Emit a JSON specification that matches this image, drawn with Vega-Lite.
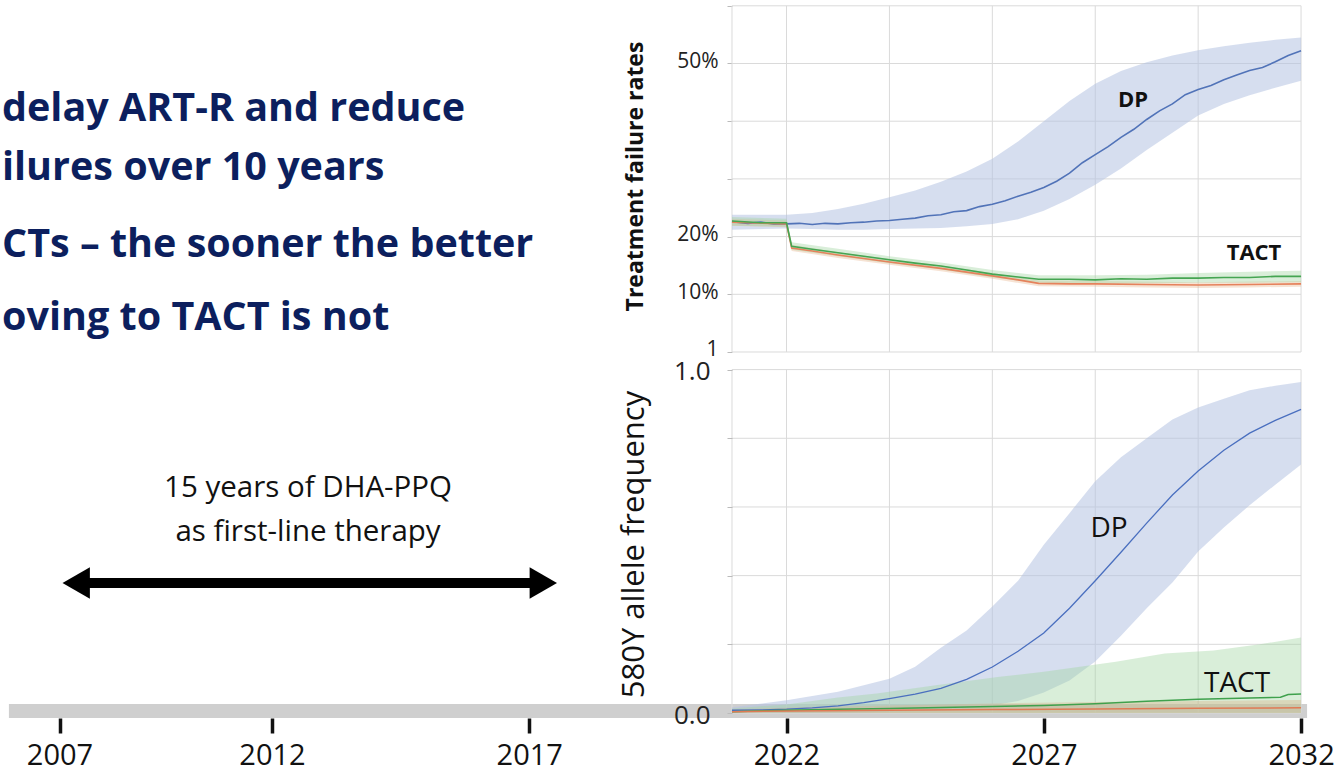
{
  "$schema": "https://vega.github.io/schema/vega-lite/v6.json",
  "width": 1338,
  "height": 713,
  "padding": {"left": 0, "top": 0, "right": 0, "bottom": 59},
  "autosize": {"type": "none"},
  "background": "white",
  "config": {"view": {"stroke": null}, "font": "Open Sans", "text": {"font": "Open Sans"}},
  "datasets": {
    "t_hgrid": [
      {"year": 2020.94, "year2": 2032, "y": 0}, {"year": 2020.94, "year2": 2032, "y": 0.1}, {"year": 2020.94, "year2": 2032, "y": 0.2},
      {"year": 2020.94, "year2": 2032, "y": 0.3}, {"year": 2020.94, "year2": 2032, "y": 0.4}, {"year": 2020.94, "year2": 2032, "y": 0.5},
      {"year": 2020.94, "year2": 2032, "y": 0.6}
    ],
    "t_vgrid": [
      {"year": 2020.94, "y": 0, "y2": 0.6}, {"year": 2022, "y": 0, "y2": 0.6}, {"year": 2024, "y": 0, "y2": 0.6},
      {"year": 2026, "y": 0, "y2": 0.6}, {"year": 2028, "y": 0, "y2": 0.6}, {"year": 2030, "y": 0, "y2": 0.6}, {"year": 2032, "y": 0, "y2": 0.6}
    ],
    "t_band": [
      {"s": "DP", "year": 2020.94, "y": 0.212, "y2": 0.238}, {"s": "DP", "year": 2022, "y": 0.214, "y2": 0.238},
      {"s": "DP", "year": 2022.5, "y": 0.213, "y2": 0.241}, {"s": "DP", "year": 2023, "y": 0.212, "y2": 0.248},
      {"s": "DP", "year": 2023.5, "y": 0.212, "y2": 0.257}, {"s": "DP", "year": 2024, "y": 0.213, "y2": 0.268},
      {"s": "DP", "year": 2024.5, "y": 0.214, "y2": 0.28}, {"s": "DP", "year": 2025, "y": 0.215, "y2": 0.295},
      {"s": "DP", "year": 2025.5, "y": 0.218, "y2": 0.313}, {"s": "DP", "year": 2026, "y": 0.222, "y2": 0.335},
      {"s": "DP", "year": 2026.5, "y": 0.23, "y2": 0.365}, {"s": "DP", "year": 2027, "y": 0.245, "y2": 0.4},
      {"s": "DP", "year": 2027.5, "y": 0.265, "y2": 0.435}, {"s": "DP", "year": 2028, "y": 0.29, "y2": 0.465},
      {"s": "DP", "year": 2028.5, "y": 0.318, "y2": 0.487}, {"s": "DP", "year": 2029, "y": 0.35, "y2": 0.502},
      {"s": "DP", "year": 2029.5, "y": 0.38, "y2": 0.514}, {"s": "DP", "year": 2030, "y": 0.41, "y2": 0.523},
      {"s": "DP", "year": 2030.5, "y": 0.43, "y2": 0.53}, {"s": "DP", "year": 2031, "y": 0.445, "y2": 0.536},
      {"s": "DP", "year": 2031.5, "y": 0.458, "y2": 0.541}, {"s": "DP", "year": 2032, "y": 0.47, "y2": 0.545},
      {"s": "G", "year": 2020.94, "y": 0.219, "y2": 0.234}, {"s": "G", "year": 2022.0, "y": 0.217, "y2": 0.231},
      {"s": "G", "year": 2022.1, "y": 0.177, "y2": 0.19}, {"s": "G", "year": 2023, "y": 0.166, "y2": 0.179},
      {"s": "G", "year": 2024, "y": 0.154, "y2": 0.166}, {"s": "G", "year": 2025, "y": 0.143, "y2": 0.155},
      {"s": "G", "year": 2026, "y": 0.129, "y2": 0.142}, {"s": "G", "year": 2026.9, "y": 0.12, "y2": 0.133},
      {"s": "G", "year": 2028, "y": 0.118, "y2": 0.133}, {"s": "G", "year": 2029, "y": 0.119, "y2": 0.134},
      {"s": "G", "year": 2030, "y": 0.12, "y2": 0.137}, {"s": "G", "year": 2031, "y": 0.12, "y2": 0.139},
      {"s": "G", "year": 2032, "y": 0.121, "y2": 0.141},
      {"s": "O", "year": 2020.94, "y": 0.219, "y2": 0.231}, {"s": "O", "year": 2022.0, "y": 0.216, "y2": 0.228},
      {"s": "O", "year": 2022.1, "y": 0.175, "y2": 0.186}, {"s": "O", "year": 2023, "y": 0.163, "y2": 0.173},
      {"s": "O", "year": 2024, "y": 0.151, "y2": 0.161}, {"s": "O", "year": 2025, "y": 0.14, "y2": 0.15},
      {"s": "O", "year": 2026, "y": 0.127, "y2": 0.137}, {"s": "O", "year": 2026.9, "y": 0.114, "y2": 0.124},
      {"s": "O", "year": 2028, "y": 0.113, "y2": 0.123}, {"s": "O", "year": 2029, "y": 0.112, "y2": 0.122},
      {"s": "O", "year": 2030, "y": 0.111, "y2": 0.121}, {"s": "O", "year": 2031, "y": 0.112, "y2": 0.122},
      {"s": "O", "year": 2032, "y": 0.113, "y2": 0.123}
    ],
    "t_line": [
      {"s": "DP", "year": 2020.94, "y": 0.226}, {"s": "DP", "year": 2021.25, "y": 0.223}, {"s": "DP", "year": 2021.5, "y": 0.225},
      {"s": "DP", "year": 2021.75, "y": 0.222}, {"s": "DP", "year": 2022.0, "y": 0.222}, {"s": "DP", "year": 2022.25, "y": 0.223},
      {"s": "DP", "year": 2022.5, "y": 0.221}, {"s": "DP", "year": 2022.75, "y": 0.223}, {"s": "DP", "year": 2023.0, "y": 0.222},
      {"s": "DP", "year": 2023.25, "y": 0.224}, {"s": "DP", "year": 2023.5, "y": 0.225}, {"s": "DP", "year": 2023.75, "y": 0.227},
      {"s": "DP", "year": 2024.0, "y": 0.228}, {"s": "DP", "year": 2024.25, "y": 0.23}, {"s": "DP", "year": 2024.5, "y": 0.232},
      {"s": "DP", "year": 2024.75, "y": 0.236}, {"s": "DP", "year": 2025.0, "y": 0.238}, {"s": "DP", "year": 2025.25, "y": 0.243},
      {"s": "DP", "year": 2025.5, "y": 0.245}, {"s": "DP", "year": 2025.75, "y": 0.252}, {"s": "DP", "year": 2026.0, "y": 0.256},
      {"s": "DP", "year": 2026.25, "y": 0.262}, {"s": "DP", "year": 2026.5, "y": 0.27}, {"s": "DP", "year": 2026.75, "y": 0.277},
      {"s": "DP", "year": 2027.0, "y": 0.285}, {"s": "DP", "year": 2027.25, "y": 0.296}, {"s": "DP", "year": 2027.5, "y": 0.31},
      {"s": "DP", "year": 2027.75, "y": 0.328}, {"s": "DP", "year": 2028.0, "y": 0.342}, {"s": "DP", "year": 2028.25, "y": 0.356},
      {"s": "DP", "year": 2028.5, "y": 0.372}, {"s": "DP", "year": 2028.75, "y": 0.386}, {"s": "DP", "year": 2029.0, "y": 0.403},
      {"s": "DP", "year": 2029.25, "y": 0.418}, {"s": "DP", "year": 2029.5, "y": 0.43}, {"s": "DP", "year": 2029.75, "y": 0.446},
      {"s": "DP", "year": 2030.0, "y": 0.455}, {"s": "DP", "year": 2030.25, "y": 0.462}, {"s": "DP", "year": 2030.5, "y": 0.472},
      {"s": "DP", "year": 2030.75, "y": 0.48}, {"s": "DP", "year": 2031.0, "y": 0.488}, {"s": "DP", "year": 2031.25, "y": 0.493},
      {"s": "DP", "year": 2031.5, "y": 0.503}, {"s": "DP", "year": 2031.75, "y": 0.514}, {"s": "DP", "year": 2032.0, "y": 0.522},
      {"s": "G", "year": 2020.94, "y": 0.227}, {"s": "G", "year": 2021.5, "y": 0.224}, {"s": "G", "year": 2022.0, "y": 0.224},
      {"s": "G", "year": 2022.1, "y": 0.183}, {"s": "G", "year": 2022.5, "y": 0.178}, {"s": "G", "year": 2023.0, "y": 0.172},
      {"s": "G", "year": 2023.5, "y": 0.166}, {"s": "G", "year": 2024.0, "y": 0.16}, {"s": "G", "year": 2024.5, "y": 0.154},
      {"s": "G", "year": 2025.0, "y": 0.149}, {"s": "G", "year": 2025.5, "y": 0.142}, {"s": "G", "year": 2026.0, "y": 0.135},
      {"s": "G", "year": 2026.5, "y": 0.13}, {"s": "G", "year": 2026.9, "y": 0.126}, {"s": "G", "year": 2027.5, "y": 0.126},
      {"s": "G", "year": 2028.0, "y": 0.125}, {"s": "G", "year": 2028.5, "y": 0.127}, {"s": "G", "year": 2029.0, "y": 0.126},
      {"s": "G", "year": 2029.5, "y": 0.128}, {"s": "G", "year": 2030.0, "y": 0.128}, {"s": "G", "year": 2030.5, "y": 0.129},
      {"s": "G", "year": 2031.0, "y": 0.129}, {"s": "G", "year": 2031.5, "y": 0.131}, {"s": "G", "year": 2032.0, "y": 0.131},
      {"s": "O", "year": 2020.94, "y": 0.225}, {"s": "O", "year": 2022.0, "y": 0.222}, {"s": "O", "year": 2022.1, "y": 0.18},
      {"s": "O", "year": 2022.5, "y": 0.175}, {"s": "O", "year": 2023.0, "y": 0.168}, {"s": "O", "year": 2024.0, "y": 0.156},
      {"s": "O", "year": 2025.0, "y": 0.145}, {"s": "O", "year": 2026.0, "y": 0.132}, {"s": "O", "year": 2026.5, "y": 0.125},
      {"s": "O", "year": 2026.9, "y": 0.119}, {"s": "O", "year": 2027.5, "y": 0.118}, {"s": "O", "year": 2028.0, "y": 0.118},
      {"s": "O", "year": 2029.0, "y": 0.117}, {"s": "O", "year": 2030.0, "y": 0.116}, {"s": "O", "year": 2031.0, "y": 0.117},
      {"s": "O", "year": 2032.0, "y": 0.118}
    ],
    "t_labels": [
      {"year": 2028.735, "y": 0.4246, "text": "DP"},
      {"year": 2031.086, "y": 0.1594, "text": "TACT"}
    ],
    "b_bar": [{"year": 2005.81, "year2": 2032.117, "y": 0.006}],
    "b_hgrid": [
      {"year": 2020.94, "year2": 2032, "y": 0}, {"year": 2020.94, "year2": 2032, "y": 0.2}, {"year": 2020.94, "year2": 2032, "y": 0.4},
      {"year": 2020.94, "year2": 2032, "y": 0.6}, {"year": 2020.94, "year2": 2032, "y": 0.8}, {"year": 2020.94, "year2": 2032, "y": 1.0}
    ],
    "b_vgrid": [
      {"year": 2020.94, "y": 0, "y2": 1}, {"year": 2022, "y": 0, "y2": 1}, {"year": 2024, "y": 0, "y2": 1},
      {"year": 2026, "y": 0, "y2": 1}, {"year": 2028, "y": 0, "y2": 1}, {"year": 2030, "y": 0, "y2": 1}, {"year": 2032, "y": 0, "y2": 1}
    ],
    "b_band": [
      {"s": "DP", "year": 2020.94, "y": 0, "y2": 0.017}, {"s": "DP", "year": 2022, "y": 0, "y2": 0.037},
      {"s": "DP", "year": 2023, "y": 0.001, "y2": 0.062}, {"s": "DP", "year": 2024, "y": 0.004, "y2": 0.1},
      {"s": "DP", "year": 2024.5, "y": 0.006, "y2": 0.135}, {"s": "DP", "year": 2025, "y": 0.008, "y2": 0.19},
      {"s": "DP", "year": 2025.5, "y": 0.012, "y2": 0.24}, {"s": "DP", "year": 2026, "y": 0.022, "y2": 0.31},
      {"s": "DP", "year": 2026.5, "y": 0.035, "y2": 0.385}, {"s": "DP", "year": 2027, "y": 0.06, "y2": 0.49},
      {"s": "DP", "year": 2027.5, "y": 0.095, "y2": 0.582}, {"s": "DP", "year": 2028, "y": 0.15, "y2": 0.675},
      {"s": "DP", "year": 2028.5, "y": 0.225, "y2": 0.745}, {"s": "DP", "year": 2029, "y": 0.305, "y2": 0.8},
      {"s": "DP", "year": 2029.5, "y": 0.38, "y2": 0.855}, {"s": "DP", "year": 2030, "y": 0.47, "y2": 0.89},
      {"s": "DP", "year": 2030.5, "y": 0.54, "y2": 0.915}, {"s": "DP", "year": 2031, "y": 0.605, "y2": 0.94},
      {"s": "DP", "year": 2031.5, "y": 0.665, "y2": 0.953}, {"s": "DP", "year": 2032, "y": 0.724, "y2": 0.964},
      {"s": "G", "year": 2020.94, "y": 0, "y2": 0.013}, {"s": "G", "year": 2022, "y": 0, "y2": 0.025},
      {"s": "G", "year": 2023, "y": 0, "y2": 0.045}, {"s": "G", "year": 2023.75, "y": 0, "y2": 0.057},
      {"s": "G", "year": 2024.9, "y": 0, "y2": 0.081}, {"s": "G", "year": 2026.1, "y": 0, "y2": 0.105},
      {"s": "G", "year": 2027, "y": 0, "y2": 0.12}, {"s": "G", "year": 2028.4, "y": 0, "y2": 0.149},
      {"s": "G", "year": 2029.35, "y": 0, "y2": 0.173}, {"s": "G", "year": 2030.3, "y": 0, "y2": 0.182},
      {"s": "G", "year": 2031.2, "y": 0, "y2": 0.2}, {"s": "G", "year": 2032, "y": 0, "y2": 0.22},
      {"s": "O", "year": 2020.94, "y": 0, "y2": 0.01}, {"s": "O", "year": 2022, "y": 0, "y2": 0.015},
      {"s": "O", "year": 2024, "y": 0, "y2": 0.022}, {"s": "O", "year": 2026, "y": 0, "y2": 0.028},
      {"s": "O", "year": 2028, "y": 0, "y2": 0.032}, {"s": "O", "year": 2030, "y": 0, "y2": 0.035},
      {"s": "O", "year": 2032, "y": 0, "y2": 0.038}
    ],
    "b_line": [
      {"s": "DP", "year": 2020.94, "y": 0.008}, {"s": "DP", "year": 2021.5, "y": 0.009}, {"s": "DP", "year": 2022.0, "y": 0.011},
      {"s": "DP", "year": 2022.5, "y": 0.015}, {"s": "DP", "year": 2023.0, "y": 0.021}, {"s": "DP", "year": 2023.5, "y": 0.03},
      {"s": "DP", "year": 2024.0, "y": 0.042}, {"s": "DP", "year": 2024.5, "y": 0.055}, {"s": "DP", "year": 2025.0, "y": 0.072},
      {"s": "DP", "year": 2025.5, "y": 0.098}, {"s": "DP", "year": 2026.0, "y": 0.134}, {"s": "DP", "year": 2026.5, "y": 0.18},
      {"s": "DP", "year": 2027.0, "y": 0.233}, {"s": "DP", "year": 2027.5, "y": 0.305}, {"s": "DP", "year": 2028.0, "y": 0.385},
      {"s": "DP", "year": 2028.5, "y": 0.468}, {"s": "DP", "year": 2029.0, "y": 0.553}, {"s": "DP", "year": 2029.5, "y": 0.635},
      {"s": "DP", "year": 2030.0, "y": 0.705}, {"s": "DP", "year": 2030.5, "y": 0.765}, {"s": "DP", "year": 2031.0, "y": 0.815},
      {"s": "DP", "year": 2031.5, "y": 0.852}, {"s": "DP", "year": 2032.0, "y": 0.884},
      {"s": "G", "year": 2020.94, "y": 0.004}, {"s": "G", "year": 2022, "y": 0.008}, {"s": "G", "year": 2023, "y": 0.011},
      {"s": "G", "year": 2024, "y": 0.013}, {"s": "G", "year": 2025, "y": 0.016}, {"s": "G", "year": 2026, "y": 0.019},
      {"s": "G", "year": 2027, "y": 0.022}, {"s": "G", "year": 2028, "y": 0.027}, {"s": "G", "year": 2029, "y": 0.034},
      {"s": "G", "year": 2030, "y": 0.04}, {"s": "G", "year": 2031, "y": 0.044}, {"s": "G", "year": 2031.6, "y": 0.046},
      {"s": "G", "year": 2031.75, "y": 0.054}, {"s": "G", "year": 2032, "y": 0.055},
      {"s": "O", "year": 2020.94, "y": 0.004}, {"s": "O", "year": 2024, "y": 0.008}, {"s": "O", "year": 2026, "y": 0.01},
      {"s": "O", "year": 2028, "y": 0.012}, {"s": "O", "year": 2030, "y": 0.014}, {"s": "O", "year": 2032, "y": 0.015}
    ],
    "b_labels": [
      {"year": 2028.268, "y": 0.5134, "text": "DP"},
      {"year": 2030.756, "y": 0.062, "text": "TACT"}
    ],
    "slide_text": [
      {"year": 2005.647, "y": 1.7248, "text": "delay ART-R and reduce"},
      {"year": 2005.647, "y": 1.552, "text": "ilures over 10 years"},
      {"year": 2005.647, "y": 1.328, "text": "CTs – the sooner the better"},
      {"year": 2005.647, "y": 1.115, "text": "oving to TACT is not"}
    ],
    "arrow_text": [
      {"year": 2012.7, "y": 0.629, "text": "15 years of DHA-PPQ"},
      {"year": 2012.7, "y": 0.501, "text": "as first-line therapy"}
    ],
    "arrow_shaft": [{"year": 2007.393, "year2": 2017.273, "y": 0.3786}],
    "arrow_heads": [
      {"year": 2007.393, "y": 0.3786, "end": "left"},
      {"year": 2017.273, "y": 0.3786, "end": "right"}
    ]
  },
  "encoding": {
    "x": {
      "field": "year",
      "type": "quantitative",
      "scale": {"domain": [2005.6, 2012, 2032.718], "range": [0, 272, 1338], "nice": false, "zero": false},
      "axis": {
        "orient": "bottom",
        "values": [2007, 2012, 2017, 2022, 2027, 2032],
        "format": "d",
        "domain": false,
        "grid": false,
        "offset": 5,
        "tickSize": 15,
        "tickWidth": 3.5,
        "tickColor": "#111111",
        "labelFont": "Open Sans",
        "labelFontSize": 29,
        "labelColor": "#111111",
        "labelPadding": 8,
        "labelOverlap": false,
        "labelFlush": false,
        "title": null
      }
    }
  },
  "layer": [
    {
      "encoding": {
        "y": {
          "field": "y",
          "type": "quantitative",
          "scale": {"domain": [-0.62565, 0.61005], "nice": false, "zero": false},
          "axis": {
            "orient": "left",
            "offset": -732,
            "values": [0, 0.1, 0.2, 0.3, 0.4, 0.5, 0.6],
            "labelExpr": "datum.value == 0 ? '1' : (abs(datum.value - 0.1) < 0.001 || abs(datum.value - 0.2) < 0.001 || abs(datum.value - 0.5) < 0.001) ? format(datum.value, '.0%') : ''",
            "domain": false,
            "grid": false,
            "tickSize": 5,
            "tickColor": "#bbbbbb",
            "labelFont": "Open Sans",
            "labelFontSize": 21,
            "labelColor": "#222222",
            "labelPadding": 9,
            "labelOverlap": false,
            "labelOffset": -2,
            "title": "Treatment failure rates",
            "titleFont": "Open Sans",
            "titleFontWeight": "bold",
            "titleFontSize": 23,
            "titleColor": "#111111",
            "titleX": -90,
            "titleY": 176,
            "titleBaseline": "alphabetic",
            "titleAngle": 270
          }
        }
      },
      "layer": [
        {"data": {"name": "t_hgrid"}, "mark": {"type": "rule", "color": "#dadada", "strokeWidth": 1}, "encoding": {"x2": {"field": "year2"}}},
        {"data": {"name": "t_vgrid"}, "mark": {"type": "rule", "color": "#dadada", "strokeWidth": 1}, "encoding": {"y2": {"field": "y2"}}},
        {"data": {"name": "t_band"}, "transform": [{"filter": "datum.s === 'DP'"}], "mark": {"type": "area", "color": "#b4c3e1", "opacity": 0.55}, "encoding": {"y2": {"field": "y2"}}},
        {"data": {"name": "t_band"}, "transform": [{"filter": "datum.s === 'O'"}], "mark": {"type": "area", "color": "#e8b994", "opacity": 0.4}, "encoding": {"y2": {"field": "y2"}}},
        {"data": {"name": "t_band"}, "transform": [{"filter": "datum.s === 'G'"}], "mark": {"type": "area", "color": "#9fd49f", "opacity": 0.4}, "encoding": {"y2": {"field": "y2"}}},
        {"data": {"name": "t_line"}, "transform": [{"filter": "datum.s === 'DP'"}], "mark": {"type": "line", "color": "#5173b8", "strokeWidth": 1.6}, "encoding": {}},
        {"data": {"name": "t_line"}, "transform": [{"filter": "datum.s === 'O'"}], "mark": {"type": "line", "color": "#e5825c", "strokeWidth": 1.6}, "encoding": {}},
        {"data": {"name": "t_line"}, "transform": [{"filter": "datum.s === 'G'"}], "mark": {"type": "line", "color": "#45a552", "strokeWidth": 1.6}, "encoding": {}},
        {"data": {"name": "t_labels"}, "mark": {"type": "text", "font": "Open Sans", "fontWeight": "bold", "fontSize": 22, "baseline": "alphabetic", "align": "center", "color": "#111111"}, "encoding": {"text": {"field": "text"}}}
      ]
    },
    {
      "encoding": {
        "y": {
          "field": "y",
          "type": "quantitative",
          "scale": {"domain": [0, 2.0763], "nice": false, "zero": false},
          "axis": {
            "orient": "left",
            "offset": -732,
            "zindex": 2,
            "values": [0, 0.2, 0.4, 0.6, 0.8, 1],
            "labelExpr": "datum.value == 0 ? '0.0' : datum.value == 1 ? '1.0' : ''",
            "domain": false,
            "grid": false,
            "tickSize": 5,
            "tickColor": "#bbbbbb",
            "labelFont": "Open Sans",
            "labelFontSize": 26,
            "labelColor": "#222222",
            "labelPadding": 17,
            "labelOverlap": false,
            "labelFlush": false,
            "labelOffset": 2,
            "title": "580Y allele frequency",
            "titleFont": "Open Sans",
            "titleFontWeight": "normal",
            "titleFontSize": 31,
            "titleColor": "#111111",
            "titleX": -89,
            "titleY": 544,
            "titleBaseline": "alphabetic",
            "titleAngle": 270
          }
        }
      },
      "layer": [
        {"data": {"name": "b_bar"}, "mark": {"type": "rule", "color": "#cfcfcf", "strokeWidth": 14}, "encoding": {"x2": {"field": "year2"}}},
        {"data": {"name": "b_hgrid"}, "mark": {"type": "rule", "color": "#dadada", "strokeWidth": 1}, "encoding": {"x2": {"field": "year2"}}},
        {"data": {"name": "b_vgrid"}, "mark": {"type": "rule", "color": "#dadada", "strokeWidth": 1}, "encoding": {"y2": {"field": "y2"}}},
        {"data": {"name": "b_band"}, "transform": [{"filter": "datum.s === 'DP'"}], "mark": {"type": "area", "color": "#b4c3e1", "opacity": 0.55}, "encoding": {"y2": {"field": "y2"}}},
        {"data": {"name": "b_band"}, "transform": [{"filter": "datum.s === 'G'"}], "mark": {"type": "area", "color": "#9fd49f", "opacity": 0.4}, "encoding": {"y2": {"field": "y2"}}},
        {"data": {"name": "b_band"}, "transform": [{"filter": "datum.s === 'O'"}], "mark": {"type": "area", "color": "#d9b48c", "opacity": 0.4}, "encoding": {"y2": {"field": "y2"}}},
        {"data": {"name": "b_line"}, "transform": [{"filter": "datum.s === 'DP'"}], "mark": {"type": "line", "color": "#4a6fbf", "strokeWidth": 1.3}, "encoding": {}},
        {"data": {"name": "b_line"}, "transform": [{"filter": "datum.s === 'G'"}], "mark": {"type": "line", "color": "#3fa14d", "strokeWidth": 1.5}, "encoding": {}},
        {"data": {"name": "b_line"}, "transform": [{"filter": "datum.s === 'O'"}], "mark": {"type": "line", "color": "#e07a55", "strokeWidth": 1.5}, "encoding": {}},
        {"data": {"name": "b_labels"}, "mark": {"type": "text", "font": "Open Sans", "fontSize": 28, "baseline": "alphabetic", "align": "center", "color": "#111111"}, "encoding": {"text": {"field": "text"}}},
        {"data": {"name": "slide_text"}, "mark": {"type": "text", "font": "Open Sans", "fontWeight": "bold", "fontSize": 39.5, "baseline": "alphabetic", "align": "left", "color": "#0c1f5e"}, "encoding": {"text": {"field": "text"}}},
        {"data": {"name": "arrow_text"}, "mark": {"type": "text", "font": "Open Sans", "fontSize": 29.5, "baseline": "alphabetic", "align": "center", "color": "#111111"}, "encoding": {"text": {"field": "text"}}},
        {"data": {"name": "arrow_shaft"}, "mark": {"type": "rule", "color": "#000000", "strokeWidth": 10}, "encoding": {"x2": {"field": "year2"}}},
        {"data": {"name": "arrow_heads"}, "mark": {"type": "point", "filled": true, "size": 1000, "color": "#000000", "opacity": 1, "strokeWidth": 0}, "encoding": {"shape": {"field": "end", "type": "nominal", "scale": {"domain": ["left", "right"], "range": ["triangle-left", "triangle-right"]}, "legend": null}}}
      ]
    }
  ],
  "resolve": {"scale": {"y": "independent"}, "axis": {"y": "independent"}}
}
